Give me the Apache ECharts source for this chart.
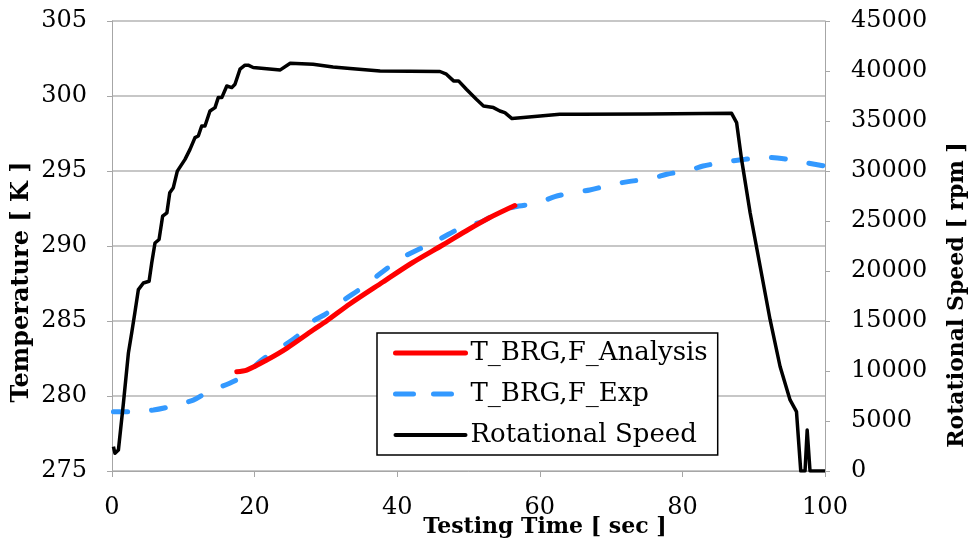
<!DOCTYPE html>
<html>
<head>
<meta charset="utf-8">
<script src="https://cdn.jsdelivr.net/npm/echarts@6/dist/echarts.min.js"></script>
<style>html,body{margin:0;padding:0;background:#fff}#c{width:969px;height:556px}</style>
</head>
<body>
<div id="c"></div>
<script>
// Rotational speed (right axis, rpm)
var speedT = [0.2,0.42,0.9,1.6,2.3,2.76,3.2,3.7,4.4,5.2,5.57,6.03,6.6,7.1,7.7,8.1,8.6,9.16,10.24,10.94,11.64,12.1,12.58,13.04,13.74,14.45,14.9,15.4,16.1,16.8,17.25,17.95,18.65,19.1,19.8,23.6,25,28.2,31,33.4,37.6,46.0,46.9,47.9,48.6,49.7,51.1,52.1,53.5,54.4,55.1,56.1,57.7,62.8,65.6,75,86.9,87.6,88.3,89.5,90.9,92.3,93.7,95.1,96.0,96.6,97.2,97.5,97.9,100];
var speedV = [2430,1770,2100,6780,11800,13800,15800,18140,18800,18970,20800,22800,23150,25480,25820,27830,28330,29990,31160,32160,33340,33500,34500,34500,36000,36340,37340,37340,38500,38340,38680,40180,40580,40580,40350,40110,40780,40680,40400,40250,40010,39950,39680,39010,39010,38180,37170,36500,36340,36000,35840,35240,35340,35670,35670,35700,35770,34840,31160,25820,20470,15130,10450,7110,5940,0,0,4100,0,0];
// Experimental bearing temperature (left axis, K)
var expT = [0.2,2.5,5.8,8.1,11.4,13.5,16.5,18.65,21.0,23.1,25.9,27.3,30.1,32.2,35,38,41,44,46,49.3,51.85,54.4,56.5,59.6,62.1,65.0,67.0,69.8,72.4,75.7,77.8,81.1,82.9,86.2,88.8,91.8,94.2,97.4,100];
var expV = [278.95,278.95,279.07,279.29,279.73,280.29,280.85,281.4,282.4,283.07,283.95,284.73,285.51,286.29,287.2,288.3,289.3,290.0,290.47,291.29,291.62,292.29,292.62,292.85,293.29,293.6,293.73,294.07,294.29,294.51,294.78,295.07,295.33,295.62,295.78,295.91,295.82,295.55,295.33];
// Analysis bearing temperature (left axis, K)
var anaT = [17.5,18.9,21.7,24.5,28.2,30.1,33.4,38,42,46.5,50,53,56.5];
var anaV = [281.62,281.73,282.4,283.18,284.4,285.0,286.15,287.6,288.85,290.1,291.1,291.9,292.7];

var seriesNames = ['T_BRG,F_Analysis','T_BRG,F_Exp','Rotational Speed'];
var axisTitles = ['Testing Time [ sec ]','Temperature [ K ]','Rotational Speed [ rpm ]'];

function pairs(a, b){ return a.map(function(v,i){ return [v, b[i]]; }); }

var FONT = 'DejaVu Serif';
var gray = '#a6a6a6';
var colors = ['#ff0000', '#3399ff', '#000000'];
var blueDash = [14, 24];
var chart = echarts.init(document.getElementById('c'));
chart.setOption({
  animation: false,
  backgroundColor: '#fff',
  grid: {left: 112, right: 144, top: 21, bottom: 85, containLabel: false},
  xAxis: {
    type: 'value', min: 0, max: 100, interval: 20,
    axisLine: {show: true, lineStyle: {color: gray, width: 1}},
    axisTick: {show: true, inside: false, length: 6, lineStyle: {color: gray}},
    splitLine: {show: false},
    axisLabel: {color: '#000', fontFamily: FONT, fontSize: 24, margin: 25}
  },
  yAxis: [{
    type: 'value', min: 275, max: 305, interval: 5, position: 'left',
    axisLine: {show: true, lineStyle: {color: gray, width: 1}},
    axisTick: {show: true, inside: false, length: 5, lineStyle: {color: gray}},
    splitLine: {show: true, lineStyle: {color: '#b4b4b4', width: 1.5}},
    axisLabel: {color: '#000', fontFamily: FONT, fontSize: 24, margin: 25}
  }, {
    type: 'value', min: 0, max: 45000, interval: 5000, position: 'right',
    axisLine: {show: true, lineStyle: {color: gray, width: 1}},
    axisTick: {show: true, inside: false, length: 5, lineStyle: {color: gray}},
    splitLine: {show: false},
    axisLabel: {color: '#000', fontFamily: FONT, fontSize: 24, margin: 26,
      formatter: function(v){ return String(v); }}
  }],
  legend: {
    orient: 'vertical', left: 377, top: 333,
    padding: [7, 10, 7, 16],
    itemWidth: 70, itemHeight: 14, itemGap: 15,
    backgroundColor: '#fff', borderColor: '#000', borderWidth: 1.5,
    textStyle: {color: '#000', fontFamily: FONT, fontSize: 26},
    data: [
      {name: seriesNames[0], itemStyle: {opacity: 0}, lineStyle: {width: 5, color: colors[0], cap: 'round'}},
      {name: seriesNames[1], itemStyle: {opacity: 0}, lineStyle: {width: 5, color: colors[1], type: [18, 20], cap: 'round'}},
      {name: seriesNames[2], itemStyle: {opacity: 0}, lineStyle: {width: 4, color: colors[2], cap: 'round'}}
    ]
  },
  series: [{
    name: seriesNames[0], type: 'line', yAxisIndex: 0, symbol: 'none', z: 3,
    smooth: 0.3,
    lineStyle: {color: colors[0], width: 5, cap: 'round'},
    itemStyle: {color: colors[0]},
    data: pairs(anaT, anaV)
  }, {
    name: seriesNames[1], type: 'line', yAxisIndex: 0, symbol: 'none', z: 2,
    smooth: 0.3,
    lineStyle: {color: colors[1], width: 5, type: blueDash, cap: 'round'},
    itemStyle: {color: colors[1]},
    data: pairs(expT, expV)
  }, {
    name: seriesNames[2], type: 'line', yAxisIndex: 1, symbol: 'none', z: 4,
    lineStyle: {color: colors[2], width: 3.5, join: 'round'},
    itemStyle: {color: colors[2]},
    data: pairs(speedT, speedV)
  }],
  graphic: [{
    type: 'text', x: 545, y: 527,
    style: {text: axisTitles[0], font: 'bold 22px "DejaVu Serif"', fill: '#000', align: 'center', verticalAlign: 'middle'}
  }, {
    type: 'text', x: 22, y: 282, rotation: Math.PI / 2,
    style: {text: axisTitles[1], font: 'bold 24px "DejaVu Serif"', fill: '#000', align: 'center', verticalAlign: 'middle'}
  }, {
    type: 'text', x: 957, y: 295, rotation: Math.PI / 2,
    style: {text: axisTitles[2], font: 'bold 22px "DejaVu Serif"', fill: '#000', align: 'center', verticalAlign: 'middle'}
  }]
});
</script>
</body>
</html>
